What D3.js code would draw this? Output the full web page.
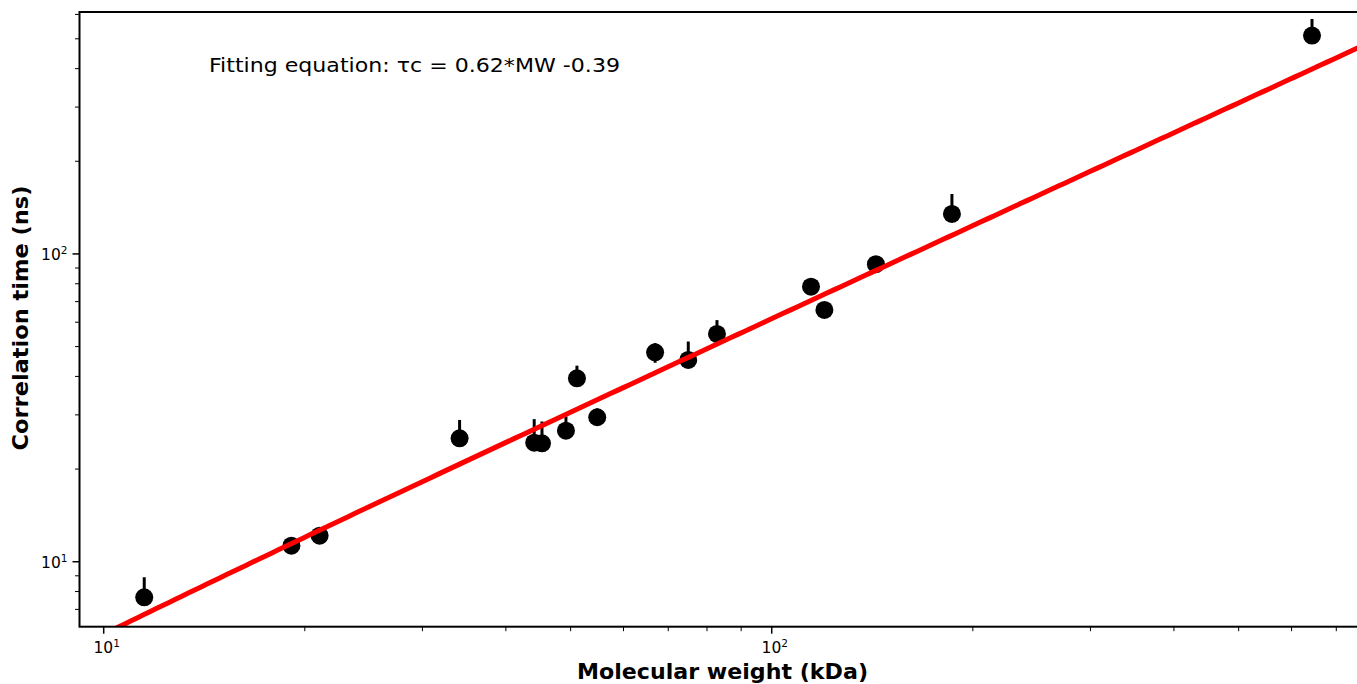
<!DOCTYPE html>
<html>
<head>
<meta charset="utf-8">
<script src="https://cdn.jsdelivr.net/npm/d3@7"></script>
<style>
    body { margin: 0; background: white; }
    text { font-family: "DejaVu Sans", sans-serif; fill: black; }
</style>
</head>
<body>
<script>
// molecular weight (kDa) and correlation time (ns)
const mw = [11.5, 19.1, 21.05, 34.1, 44.1, 45.3, 49.2, 51.1, 54.8, 66.9, 75.0, 82.8, 114.5, 119.9, 143.2, 186.1, 643.8];
const tau = [7.66, 11.27, 12.15, 25.18, 24.36, 24.25, 26.65, 39.45, 29.47, 47.9, 45.23, 54.95, 78.3, 65.8, 92.6, 134.9, 512.2];
const errUp = [1.24, 0, 0, 3.7, 4.7, 4.3, 3.0, 3.9, 2.0, 3.4, 6.7, 6.0, 0, 0, 0, 21.8, 68];
const errDown = [0, 0, 0, 0, 0, 0, 0, 0, 0, 3.6, 0, 0, 0, 0, 0, 0, 0];

// fit: tau = slope * MW + intercept
const fitSlope = 0.62, fitIntercept = -0.39;
const fitLabel = "Fitting equation: τc = 0.62*MW -0.39";

const xMajor = [10, 100], xMinor = [20, 30, 40, 50, 60, 70, 80, 90, 200, 300, 400, 500, 600, 700];
const yMajor = [10, 100], yMinor = [7, 8, 9, 20, 30, 40, 50, 60, 70, 80, 90, 200, 300, 400, 500, 600];

const W = 1357, H = 684;
const margin = { top: 12, right: -2, bottom: 57.3, left: 79.5 },
    width = W - margin.left - margin.right,
    height = H - margin.top - margin.bottom;

const svg = d3.select("body").append("svg")
    .attr("width", W)
    .attr("height", H);

const g = svg.append("g")
    .attr("transform", "translate(" + margin.left + "," + margin.top + ")");

const x = d3.scaleLog().domain([9.2, 757]).range([0, width]);
const y = d3.scaleLog().domain([6.15, 611]).range([height, 0]);

g.append("clipPath").attr("id", "clip")
    .append("rect").attr("width", width).attr("height", height);

const data = mw.map((m, i) => ({ mw: m, tau: tau[i], up: errUp[i], down: errDown[i] }));

const plot = g.append("g").attr("clip-path", "url(#clip)");

// error bars
plot.selectAll(".err")
    .data(data.filter(d => d.up > 0 || d.down > 0))
    .enter().append("line")
    .attr("x1", d => x(d.mw))
    .attr("x2", d => x(d.mw))
    .attr("y1", d => y(d.tau - d.down))
    .attr("y2", d => y(d.tau + d.up))
    .attr("stroke", "black")
    .attr("stroke-width", 3);

plot.selectAll(".pt")
    .data(data)
    .enter().append("circle")
    .attr("cx", d => x(d.mw))
    .attr("cy", d => y(d.tau))
    .attr("r", 9)
    .attr("fill", "black");

// fitted line
const fitX = d3.range(0, 201).map(i => Math.pow(10, Math.log10(9.2) + i * (Math.log10(757) - Math.log10(9.2)) / 200));
plot.append("path")
    .datum(fitX)
    .attr("fill", "none")
    .attr("stroke", "#ff0000")
    .attr("stroke-width", 5)
    .attr("d", d3.line()
        .x(d => x(d))
        .y(d => y(Math.max(1, fitSlope * d + fitIntercept))));

// ticks
function supLabel(sel) {
    sel.text(null);
    sel.append("tspan").text("10");
    sel.append("tspan").attr("font-size", "10.5px").attr("dy", "-6").text(d => Math.log10(d) === 1 ? "1" : "2");
}

const xt = g.append("g").attr("transform", "translate(0," + height + ")");
xt.selectAll(".minor").data(xMinor).enter().append("line")
    .attr("x1", d => x(d)).attr("x2", d => x(d)).attr("y1", 0).attr("y2", 4.5)
    .attr("stroke", "black").attr("stroke-width", 1);
xt.selectAll(".major").data(xMajor).enter().append("line")
    .attr("x1", d => x(d)).attr("x2", d => x(d)).attr("y1", 0).attr("y2", 7)
    .attr("stroke", "black").attr("stroke-width", 1.5);
xt.selectAll(".lab").data(xMajor).enter().append("text")
    .attr("x", d => x(d) + 3)
    .attr("y", 26.5)
    .attr("text-anchor", "middle")
    .attr("font-size", "15.5px")
    .call(supLabel);

const yt = g.append("g");
yt.selectAll(".minor").data(yMinor).enter().append("line")
    .attr("y1", d => y(d)).attr("y2", d => y(d)).attr("x1", 0).attr("x2", -4.5)
    .attr("stroke", "black").attr("stroke-width", 1);
yt.selectAll(".major").data(yMajor).enter().append("line")
    .attr("y1", d => y(d)).attr("y2", d => y(d)).attr("x1", 0).attr("x2", -7)
    .attr("stroke", "black").attr("stroke-width", 1.5);
yt.selectAll(".lab").data(yMajor).enter().append("text")
    .attr("x", -12)
    .attr("y", d => y(d) + 6.5)
    .attr("text-anchor", "end")
    .attr("font-size", "15.5px")
    .call(supLabel);

// frame
g.append("rect")
    .attr("width", width).attr("height", height)
    .attr("fill", "none").attr("stroke", "black").attr("stroke-width", 2);

g.append("text")
    .attr("x", 129.5)
    .attr("y", 59.5)
    .attr("font-size", "20px")
    .attr("textLength", 411)
    .attr("lengthAdjust", "spacingAndGlyphs")
    .text(fitLabel);

svg.append("text")
    .attr("x", 722.5)
    .attr("y", 679)
    .attr("text-anchor", "middle")
    .attr("font-size", "21.5px")
    .attr("font-weight", "bold")
    .attr("textLength", 291)
    .attr("lengthAdjust", "spacingAndGlyphs")
    .text("Molecular weight (kDa)");

svg.append("text")
    .attr("transform", "translate(28,318) rotate(-90)")
    .attr("text-anchor", "middle")
    .attr("font-size", "21.5px")
    .attr("font-weight", "bold")
    .attr("textLength", 265)
    .attr("lengthAdjust", "spacingAndGlyphs")
    .text("Correlation time (ns)");
</script>
</body>
</html>
